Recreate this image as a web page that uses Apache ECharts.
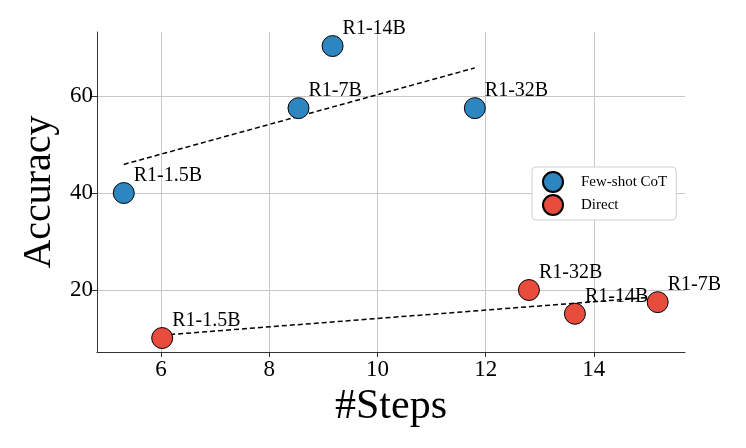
<!DOCTYPE html>
<html>
<head>
<meta charset="utf-8">
<script src="https://cdn.jsdelivr.net/npm/echarts@6/dist/echarts.min.js"></script>
<style>
  html, body { margin: 0; padding: 0; background: #fff; }
  #chart { width: 746px; height: 448px; }
</style>
</head>
<body>
<div id="chart"></div>
<script>
// values
const models = ['R1-1.5B', 'R1-7B', 'R1-14B', 'R1-32B']
const cotSteps = [5.31, 8.54, 9.17, 11.8]
const cotAcc = [40, 57.5, 70.3, 57.5]
const directSteps = [6.02, 15.18, 13.65, 12.8]
const directAcc = [10.1, 17.5, 15.1, 20]
const directNames = ['R1-1.5B', 'R1-7B', 'R1-14B', 'R1-32B']
// dashed trend lines, endpoints
const cotTrendX = [5.31, 11.8]
const cotTrendY = [45.9, 65.8]
const directTrendX = [6.02, 15.18]
const directTrendY = [10.7, 18.6]
// tick labels
const xTicks = [6, 8, 10, 12, 14]
const yTicks = [20, 40, 60]

const serif = 'Liberation Serif'
const chart = echarts.init(document.getElementById('chart'))

const pointLabel = {
  show: true,
  formatter: (p) => p.data[2],
  position: [21, -6],
  align: 'left',
  verticalAlign: 'middle',
  fontFamily: serif,
  fontSize: 20,
  color: '#000',
}

const toPts = (xs, ys, names) => xs.map((x, i) => [x, ys[i], names[i]])

const options = {
  animation: false,
  grid: { left: 97, right: 61, top: 32, bottom: 96 },
  legend: {
    data: ['Few-shot CoT', 'Direct'],
    orient: 'vertical',
    left: 532,
    top: 167,
    icon: 'circle',
    itemWidth: 30,
    itemHeight: 20,
    itemGap: 1,
    padding: [4, 9, 4, 10],
    borderColor: '#d0d0d0',
    borderWidth: 1,
    borderRadius: 4,
    backgroundColor: '#fff',
    textStyle: { fontFamily: serif, fontSize: 15, color: '#000', padding: [0, 0, 0, 8] },
  },
  xAxis: {
    type: 'value',
    min: 4.815,
    max: 15.685,
    name: '#Steps',
    nameLocation: 'middle',
    nameGap: 34,
    nameTextStyle: { fontFamily: serif, fontSize: 42, color: '#000' },
    axisLine: { show: true, onZero: false, lineStyle: { color: '#333', width: 1 } },
    axisTick: { show: true, length: 5, customValues: xTicks, lineStyle: { color: '#333' } },
    axisLabel: { fontFamily: serif, fontSize: 23, color: '#000', margin: 6, customValues: xTicks },
    splitLine: { show: true, lineStyle: { color: '#c8c8c8', width: 1 } },
  },
  yAxis: {
    type: 'value',
    min: 7.22,
    max: 73.2,
    name: 'Accuracy',
    nameLocation: 'middle',
    nameGap: 30,
    nameTextStyle: { fontFamily: serif, fontSize: 40, color: '#000' },
    axisLine: { show: true, onZero: false, lineStyle: { color: '#333', width: 1 } },
    axisTick: { show: true, length: 5, customValues: yTicks, lineStyle: { color: '#333' } },
    axisLabel: { fontFamily: serif, fontSize: 23, color: '#000', margin: 4, customValues: yTicks },
    splitLine: { show: true, lineStyle: { color: '#c8c8c8', width: 1 } },
  },
  series: [
    {
      name: 'cot-trend',
      type: 'line',
      data: cotTrendX.map((x, i) => [x, cotTrendY[i]]),
      symbol: 'none',
      lineStyle: { color: '#000', width: 1.5, type: [5, 3] },
      z: 1,
    },
    {
      name: 'direct-trend',
      type: 'line',
      data: directTrendX.map((x, i) => [x, directTrendY[i]]),
      symbol: 'none',
      lineStyle: { color: '#000', width: 1.5, type: [5, 3] },
      z: 1,
    },
    {
      name: 'Few-shot CoT',
      type: 'scatter',
      data: toPts(cotSteps, cotAcc, models),
      symbolSize: 21,
      itemStyle: { color: '#2E86C1', borderColor: '#000', borderWidth: 1, opacity: 1 },
      label: pointLabel,
      z: 3,
    },
    {
      name: 'Direct',
      type: 'scatter',
      data: toPts(directSteps, directAcc, directNames),
      symbolSize: 21,
      itemStyle: { color: '#E74C3C', borderColor: '#000', borderWidth: 1, opacity: 1 },
      label: pointLabel,
      z: 3,
    },
  ],
}
chart.setOption(options, true)
</script>
</body>
</html>
